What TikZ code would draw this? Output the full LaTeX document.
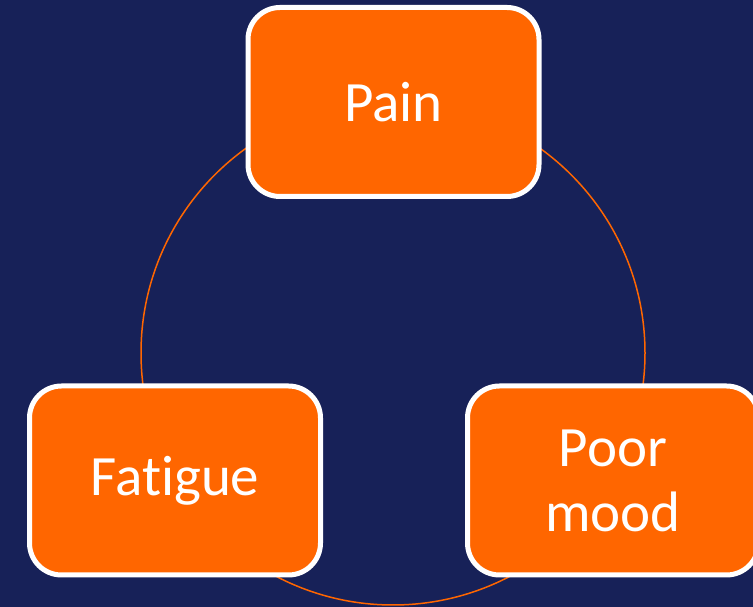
\documentclass[tikz,border=0pt]{standalone}
\usepackage{fontspec}
\setmainfont[Ligatures=NoCommon]{Carlito}
\usetikzlibrary{positioning}
\definecolor{navybg}{HTML}{172158}
\definecolor{cycleorange}{HTML}{FF6600}

\begin{document}
\begin{tikzpicture}[x=1pt,y=1pt,
    every node/.style={align=center},
    box/.style={draw=white,line width=5pt,rounded corners=32pt,fill=cycleorange,
                text=white,font=\fontsize{57}{65}\selectfont,
                minimum width=291pt,minimum height=189pt,inner sep=0pt}]
        \fill[navybg] (0,0) rectangle (753,607);
        \clip (0,0) rectangle (753,607);
        % the cycle behind the boxes
        \coordinate (hub) at (393,254);
        \draw[cycleorange,line width=1.5pt] (hub) circle[radius=252];
        \node[box] (pain) at (393.5,505) {Pain};
        \node[box] (fatigue) at (175,126.5) {Fatigue};
        \node[box] (mood) at (613,126.5) {Poor\\mood};
      \end{tikzpicture}
\end{document}
